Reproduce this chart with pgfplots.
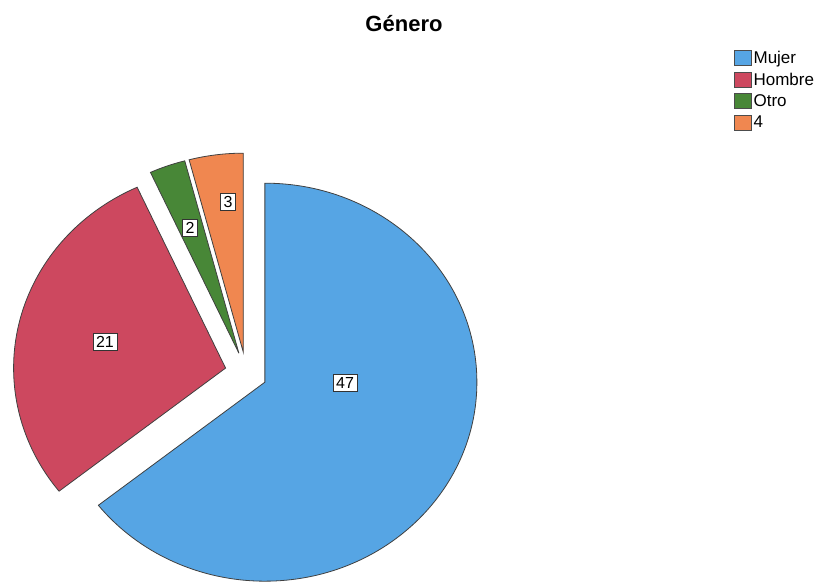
\documentclass[border=0pt]{standalone}
\usepackage{pgfplots}
\pgfplotsset{compat=1.18}
\usepackage{pgfplotstable}
\usepackage{fontspec}
\setmainfont{Liberation Sans}

\definecolor{mujer}{RGB}{86,165,228}
\definecolor{hombre}{RGB}{205,72,95}
\definecolor{otro}{RGB}{72,135,55}
\definecolor{cuatro}{RGB}{240,135,80}

% count, label position (px, y up)
\pgfplotstableread{
cat     n   lx   ly
Mujer   47  345  199
Hombre  21  105  240
Otro    2   190  354
Cuatro  3   228  380
}\genero

\pgfplotstablegetelem{0}{n}\of\genero \let\nA\pgfplotsretval
\pgfplotstablegetelem{1}{n}\of\genero \let\nB\pgfplotsretval
\pgfplotstablegetelem{2}{n}\of\genero \let\nC\pgfplotsretval
\pgfplotstablegetelem{3}{n}\of\genero \let\nD\pgfplotsretval
\pgfmathsetmacro\tot{\nA+\nB+\nC+\nD}
\pgfmathsetmacro\aA{90}
\pgfmathsetmacro\aB{\aA-360*(\nA/\tot)}
\pgfmathsetmacro\aC{\aB-360*(\nB/\tot)}
\pgfmathsetmacro\aD{\aC-360*(\nC/\tot)}
\pgfmathsetmacro\aE{\aD-360*(\nD/\tot)}

% pie centre, radii and explode distance in px
\def\cx{246}\def\cy{209}\def\ex{21}
\newcommand\slice[3]{%
  \fill[#3, draw=black!75, line width=0.8pt]
    (axis cs:{\cx+\ex*cos((#1+#2)/2)},{\cy+\ex*sin((#1+#2)/2)})
    -- ++(#1:212pt and 199pt)
    arc[start angle=#1, end angle=#2, x radius=212pt, y radius=199pt]
    -- cycle;}

\begin{document}
\begin{tikzpicture}
\begin{axis}[
  scale only axis,
  width=832pt, height=582pt,
  xmin=0, xmax=832, ymin=0, ymax=582,
  hide axis,
  clip=false,
  legend image code/.code={\draw[#1] (0pt,-7pt) rectangle (17pt,8pt);},
  legend style={at={(axis cs:734,533)}, anchor=north west,
    draw=none, fill=none, font=\fontsize{17}{21.5}\selectfont,
    inner sep=0pt, row sep=4pt, nodes={inner sep=2pt}},
  legend cell align=left,
]
\path (axis cs:0,0) rectangle (axis cs:832,582);

\slice{\aA}{\aB}{mujer}
\slice{\aB}{\aC}{hombre}
\slice{\aC}{\aD}{otro}
\slice{\aD}{\aE}{cuatro}

\addplot[draw=none, mark=none, forget plot,
  nodes near coords, point meta=explicit symbolic,
  every node near coord/.append style={anchor=center, draw=black!80, fill=white,
    line width=0.7pt, inner sep=3pt, font=\fontsize{16}{18}\selectfont}]
  table[x=lx, y=ly, meta=n] {\genero};

\node[font=\bfseries\fontsize{22}{26}\selectfont] at (axis cs:404,558) {Género};

\addlegendimage{fill=mujer, draw=black!70}
\addlegendentry{Mujer}
\addlegendimage{fill=hombre, draw=black!70}
\addlegendentry{Hombre}
\addlegendimage{fill=otro, draw=black!70}
\addlegendentry{Otro}
\addlegendimage{fill=cuatro, draw=black!70}
\addlegendentry{4}
\end{axis}
\end{tikzpicture}
\end{document}
